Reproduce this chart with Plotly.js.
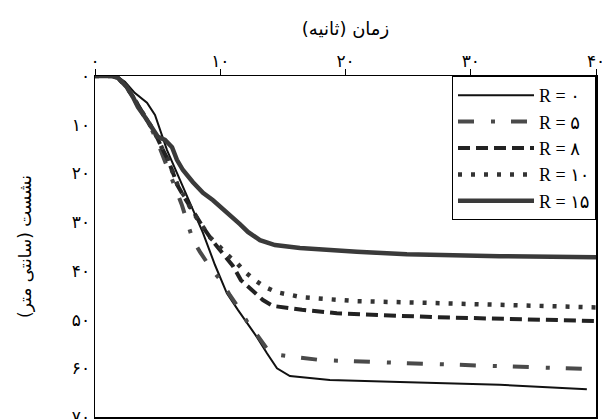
<!DOCTYPE html>
<html>
<head>
<meta charset="utf-8">
<script src="https://cdn.plot.ly/plotly-3.0.1.min.js"></script>
<style>
  html, body { margin: 0; padding: 0; background: #fff; }
  #chart { width: 602px; height: 419px; }
</style>
</head>
<body>
<div id="chart"></div>
<script>
// Settlement (cm) versus time (s) for several R values
const seriesNames = ['R = ۰', 'R = ۵', 'R = ۸', 'R = ۱۰', 'R = ۱۵'];

const tR0 = [0, 1.2, 1.84, 2.39, 3.19, 4.15, 4.79, 5.19, 5.75, 6.54, 7.58, 8.62, 9.58, 10.53, 11.41, 12.13, 12.93, 13.73, 14.53, 15.56, 16.92, 18.75, 24.34, 32.32, 39.27];
const sR0 = [0, 0, 0.2, 1.2, 3.5, 5.5, 8.0, 11.1, 15.2, 19.9, 26.1, 32.2, 38.8, 44.6, 48.0, 50.7, 53.6, 56.9, 60.0, 61.6, 62.0, 62.4, 62.8, 63.4, 64.3];

const tR5 = [0, 1.36, 1.84, 2.55, 3.19, 3.99, 4.55, 5.03, 5.43, 5.99, 6.54, 6.94, 7.42, 7.82, 8.38, 9.18, 10.14, 10.77, 11.57, 12.21, 13.01, 13.81, 14.76, 16.36, 17.96, 24.34, 32.32, 40];
const sR5 = [0, 0, 0.4, 2.3, 4.9, 8.4, 11.1, 13.8, 16.6, 20.3, 23.8, 26.5, 30.2, 33.7, 36.1, 39.2, 42.3, 45.0, 48.0, 50.7, 53.4, 56.3, 57.3, 57.9, 58.3, 58.9, 59.5, 60.2];

const tR8 = [0, 1.36, 1.84, 2.55, 3.03, 3.59, 4.15, 4.79, 5.35, 5.83, 6.23, 6.62, 7.18, 7.74, 8.22, 8.62, 9.34, 9.98, 11.01, 11.65, 12.37, 12.85, 13.41, 14.21, 15.40, 16.52, 19.31, 26.98, 40];
const sR8 = [0, 0, 0.4, 2.3, 4.3, 6.6, 9.0, 11.7, 14.8, 17.2, 19.9, 22.6, 25.1, 27.5, 29.6, 31.0, 33.7, 35.7, 39.0, 41.9, 43.5, 44.6, 46.0, 47.2, 47.6, 48.0, 48.7, 49.5, 50.3];

const tR10 = [0, 1.36, 1.84, 2.55, 3.03, 3.59, 4.15, 4.79, 5.35, 5.83, 6.23, 6.62, 7.18, 7.58, 8.14, 8.62, 9.18, 9.98, 10.61, 11.33, 11.97, 12.77, 13.57, 14.53, 15.56, 16.52, 18.60, 20.75, 26.98, 33.12, 40];
const sR10 = [0, 0, 0.4, 2.3, 4.3, 6.6, 9.0, 11.7, 14.8, 17.2, 19.9, 22.6, 24.8, 26.9, 29.2, 31.0, 33.1, 35.1, 36.8, 38.4, 40.2, 41.9, 43.3, 44.4, 45.0, 45.4, 45.8, 46.2, 46.6, 47.0, 47.5];

const tR15 = [0, 1.36, 1.84, 2.55, 3.03, 3.43, 3.99, 4.55, 5.03, 5.59, 6.15, 6.54, 7.02, 7.82, 8.62, 9.42, 10.14, 10.93, 11.57, 12.21, 13.17, 14.37, 16.36, 20.91, 24.90, 32.32, 40];
const sR15 = [0, 0, 0.4, 2.3, 4.3, 6.4, 8.4, 10.7, 12.5, 13.1, 14.6, 17.2, 19.3, 21.8, 24.0, 25.5, 27.1, 28.7, 30.4, 32.0, 33.7, 34.7, 35.3, 36.1, 36.6, 37.0, 37.2];

const xTickVals = [0, 10, 20, 30, 40];
const xTickText = ['۰', '۱۰', '۲۰', '۳۰', '۴۰'];
const yTickVals = [0, 10, 20, 30, 40, 50, 60, 70];
const yTickText = ['۰', '۱۰', '۲۰', '۳۰', '۴۰', '۵۰', '۶۰', '۷۰'];

const fontFamily = '"Liberation Serif", "DejaVu Sans", serif';
const persianFont = '"DejaVu Sans", sans-serif';

const traces = [
  { x: tR0,  y: sR0,  name: seriesNames[0], line: { color: '#111111', width: 2 } },
  { x: tR5,  y: sR5,  name: seriesNames[1], line: { color: '#4a4a4a', width: 4, dash: '16px,17px,4px,16px' } },
  { x: tR8,  y: sR8,  name: seriesNames[2], line: { color: '#222222', width: 4, dash: '12px,6px' } },
  { x: tR10, y: sR10, name: seriesNames[3], line: { color: '#333333', width: 4.5, dash: '4px,9px' } },
  { x: tR15, y: sR15, name: seriesNames[4], line: { color: '#3a3a3a', width: 4.5 } }
].map(t => Object.assign({ type: 'scatter', mode: 'lines' }, t));

const layout = {
  width: 602,
  height: 419,
  margin: { l: 95, r: 6, t: 76, b: 2 },
  paper_bgcolor: '#ffffff',
  plot_bgcolor: '#ffffff',
  showlegend: true,
  font: { family: persianFont, color: '#000000', size: 14 },
  xaxis: {
    side: 'top',
    range: [0, 40],
    tickvals: xTickVals,
    ticktext: xTickText,
    ticks: 'outside',
    ticklen: 6,
    tickcolor: '#000',
    ticklabelstandoff: -5,
    ticklabeloverflow: 'allow',
    showgrid: false,
    zeroline: false,
    showline: true,
    mirror: true,
    linecolor: '#000',
    linewidth: 1.5,
    tickfont: { family: persianFont, size: 17, color: '#000' },
    title: { text: 'زمان (ثانیه)\u200F', font: { family: persianFont, size: 18, color: '#000' }, standoff: 10 }
  },
  yaxis: {
    range: [70, 0],
    tickvals: yTickVals,
    ticktext: yTickText,
    ticks: '',
    ticklabeloverflow: 'allow',
    showgrid: false,
    zeroline: false,
    showline: true,
    mirror: true,
    linecolor: '#000',
    linewidth: 1.5,
    tickfont: { family: persianFont, size: 17, color: '#000' },
    title: { text: 'نشست (سانتی متر)\u200F', font: { family: persianFont, size: 17, color: '#000' }, standoff: 36 }
  },
  legend: {
    x: 1, xanchor: 'right',
    y: 1, yanchor: 'top',
    bgcolor: '#ffffff',
    bordercolor: '#000000',
    borderwidth: 1,
    itemwidth: 76,
    font: { family: fontFamily, size: 18, color: '#000' },
    tracegroupgap: 0
  }
};

Plotly.newPlot('chart', traces, layout, { displayModeBar: false, staticPlot: true });
</script>
</body>
</html>
